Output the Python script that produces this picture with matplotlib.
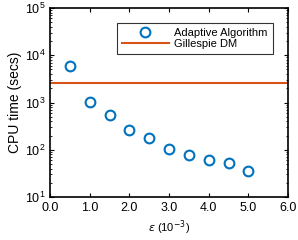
import numpy as np
import matplotlib.pyplot as plt

plt.rcParams['font.family'] = ['Liberation Sans', 'DejaVu Sans']

eps = [0.5, 1.0, 1.5, 2.0, 2.5, 3.0, 3.5, 4.0, 4.5, 5.0]
cpu_adaptive = [5900, 1020, 550, 260, 178, 105, 78, 61, 52, 36]
cpu_gillespie = 2600

fig = plt.figure(figsize=(2.98, 2.40), dpi=100)
ax = fig.add_axes([50/298, 43/240, 238/298, 189/240])

ax.plot(eps, cpu_adaptive, 'o', mfc='none', mec='#0072BD', mew=1.5, ms=7,
        label='Adaptive Algorithm')
ax.axhline(cpu_gillespie, color='#D95319', lw=1.5, label='Gillespie DM')

ax.set_yscale('log')
ax.set_xlim(0, 6)
ax.set_ylim(10, 1e5)
ax.set_xticks(np.arange(0, 6.1, 1.0))
ax.set_xticklabels(['%.1f' % v for v in np.arange(0, 6.1, 1.0)])
ax.tick_params(which='both', direction='in', top=True, right=True, labelsize=9)
ax.tick_params(which='major', length=3)
ax.tick_params(which='minor', length=1.5)
for s in ax.spines.values():
    s.set_linewidth(1.2)

ax.set_ylabel('CPU time (secs)', fontsize=10, labelpad=2)
ax.set_xlabel(r'$\epsilon$ (10$^{-3}$)', fontsize=8, labelpad=3)

leg = ax.legend(loc='upper right', bbox_to_anchor=(0.935, 0.922), fontsize=8,
                frameon=True, fancybox=False, edgecolor='black',
                borderpad=0.45, handlelength=4.2, handletextpad=0.5,
                labelspacing=0.1, borderaxespad=0)
leg.get_frame().set_linewidth(0.8)

fig.savefig('out.png', dpi=100)
